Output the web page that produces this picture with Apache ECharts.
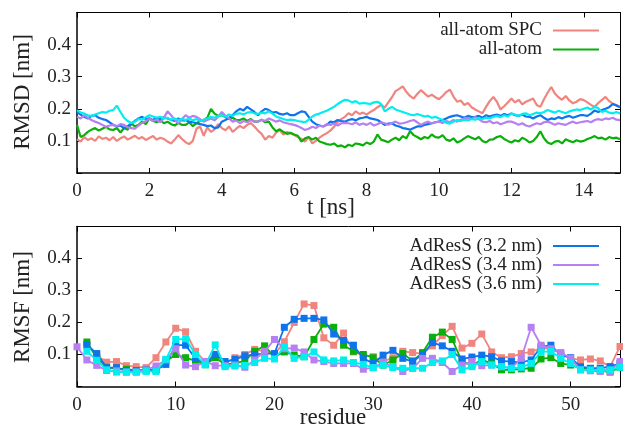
<!DOCTYPE html>
<html>
<head>
<meta charset="utf-8">
<script src="https://cdn.jsdelivr.net/npm/echarts@6/dist/echarts.min.js"></script>
<style>
  html, body { margin: 0; padding: 0; background: #fff; }
  #chart { width: 623px; height: 432px; }
</style>
</head>
<body>
<div id="chart"></div>
<script>
// series names (legend order)
const names = ['all-atom SPC', 'all-atom', 'AdResS (3.2 nm)', 'AdResS (3.4 nm)', 'AdResS (3.6 nm)'];
const colors = ['#f0857f', '#0ab00a', '#0d74ec', '#b67ff2', '#00eeee'];

// RMSD, one value every 0.1 ns from 0 to 15 ns
const tStep = 0.1;
const rmsdSPC = [
  0.105,0.098,0.112,0.103,0.108,0.100,0.114,0.106,0.110,0.102,
  0.112,0.100,0.108,0.114,0.104,0.110,0.116,0.107,0.112,0.103,
  0.109,0.115,0.104,0.110,0.106,0.098,0.092,0.104,0.118,0.106,
  0.096,0.090,0.100,0.138,0.145,0.116,0.142,0.128,0.136,0.152,
  0.140,0.133,0.145,0.128,0.138,0.147,0.140,0.150,0.156,0.145,
  0.132,0.122,0.104,0.115,0.110,0.126,0.134,0.120,0.128,0.124,
  0.118,0.112,0.106,0.098,0.112,0.092,0.100,0.110,0.118,0.124,
  0.132,0.144,0.158,0.168,0.175,0.186,0.180,0.192,0.184,0.188,
  0.182,0.190,0.196,0.205,0.212,0.204,0.220,0.236,0.255,0.262,
  0.270,0.252,0.240,0.232,0.246,0.258,0.248,0.238,0.244,0.236,
  0.230,0.240,0.252,0.260,0.238,0.222,0.226,0.212,0.218,0.205,
  0.198,0.192,0.186,0.206,0.224,0.237,0.222,0.198,0.208,0.220,
  0.232,0.220,0.228,0.214,0.222,0.227,0.232,0.212,0.206,0.230,
  0.250,0.268,0.248,0.236,0.228,0.240,0.226,0.217,0.222,0.230,
  0.227,0.220,0.212,0.206,0.218,0.228,0.237,0.224,0.216,0.212,
  0.206
];
const rmsdAA = [
  0.150,0.112,0.118,0.128,0.135,0.140,0.132,0.138,0.144,0.136,
  0.134,0.140,0.126,0.140,0.135,0.154,0.145,0.150,0.160,0.152,
  0.170,0.162,0.158,0.165,0.155,0.160,0.152,0.148,0.156,0.150,
  0.150,0.158,0.146,0.155,0.162,0.165,0.172,0.200,0.185,0.178,
  0.180,0.174,0.168,0.172,0.165,0.165,0.170,0.162,0.168,0.160,
  0.160,0.166,0.158,0.160,0.142,0.130,0.136,0.128,0.122,0.125,
  0.120,0.116,0.098,0.108,0.112,0.104,0.110,0.098,0.094,0.090,
  0.088,0.092,0.083,0.086,0.080,0.088,0.084,0.092,0.090,0.086,
  0.095,0.090,0.098,0.120,0.104,0.100,0.096,0.104,0.110,0.102,
  0.115,0.108,0.130,0.118,0.112,0.105,0.112,0.108,0.120,0.112,
  0.110,0.118,0.104,0.100,0.108,0.095,0.100,0.108,0.115,0.110,
  0.105,0.112,0.100,0.095,0.104,0.105,0.112,0.115,0.106,0.100,
  0.095,0.102,0.098,0.110,0.104,0.095,0.100,0.112,0.130,0.108,
  0.095,0.090,0.098,0.100,0.092,0.105,0.100,0.096,0.102,0.098,
  0.100,0.106,0.110,0.115,0.108,0.110,0.104,0.112,0.108,0.110,
  0.105
];
const rmsd32 = [
  0.190,0.182,0.175,0.170,0.178,0.180,0.172,0.168,0.165,0.158,
  0.150,0.145,0.148,0.140,0.146,0.154,0.162,0.170,0.175,0.168,
  0.170,0.165,0.172,0.168,0.174,0.170,0.166,0.162,0.170,0.164,
  0.165,0.160,0.158,0.155,0.152,0.150,0.146,0.148,0.140,0.142,
  0.160,0.165,0.172,0.180,0.192,0.200,0.195,0.206,0.198,0.190,
  0.180,0.192,0.200,0.196,0.188,0.190,0.184,0.182,0.186,0.180,
  0.180,0.186,0.192,0.190,0.175,0.160,0.152,0.148,0.145,0.150,
  0.160,0.158,0.165,0.162,0.160,0.165,0.168,0.164,0.170,0.172,
  0.175,0.170,0.168,0.165,0.158,0.150,0.154,0.155,0.148,0.145,
  0.140,0.138,0.135,0.140,0.145,0.145,0.150,0.152,0.155,0.158,
  0.160,0.165,0.170,0.175,0.178,0.180,0.176,0.172,0.178,0.174,
  0.175,0.178,0.172,0.180,0.176,0.180,0.182,0.178,0.184,0.180,
  0.185,0.180,0.178,0.182,0.176,0.175,0.170,0.176,0.180,0.172,
  0.165,0.170,0.168,0.174,0.170,0.175,0.178,0.172,0.176,0.180,
  0.180,0.178,0.185,0.195,0.190,0.196,0.200,0.205,0.215,0.210,
  0.205
];
const rmsd34 = [
  0.175,0.170,0.180,0.172,0.165,0.160,0.156,0.150,0.144,0.148,
  0.150,0.146,0.152,0.150,0.142,0.140,0.138,0.148,0.156,0.162,
  0.170,0.162,0.166,0.158,0.172,0.192,0.180,0.165,0.155,0.168,
  0.180,0.172,0.178,0.175,0.168,0.160,0.165,0.170,0.164,0.175,
  0.190,0.178,0.170,0.160,0.164,0.155,0.162,0.158,0.165,0.160,
  0.160,0.166,0.162,0.170,0.165,0.160,0.164,0.158,0.155,0.152,
  0.150,0.146,0.140,0.134,0.138,0.144,0.140,0.148,0.145,0.152,
  0.150,0.154,0.148,0.155,0.156,0.155,0.152,0.158,0.150,0.154,
  0.150,0.156,0.148,0.152,0.158,0.155,0.150,0.156,0.160,0.154,
  0.155,0.158,0.162,0.165,0.158,0.150,0.156,0.160,0.154,0.158,
  0.160,0.156,0.162,0.158,0.165,0.160,0.166,0.170,0.172,0.168,
  0.175,0.168,0.160,0.158,0.162,0.155,0.158,0.152,0.156,0.160,
  0.160,0.156,0.150,0.155,0.148,0.145,0.150,0.155,0.152,0.158,
  0.160,0.156,0.150,0.155,0.152,0.150,0.156,0.160,0.155,0.158,
  0.160,0.162,0.158,0.165,0.168,0.165,0.170,0.168,0.172,0.166,
  0.165
];
const rmsd36 = [
  0.196,0.188,0.185,0.180,0.178,0.182,0.186,0.190,0.188,0.194,
  0.196,0.210,0.190,0.172,0.162,0.156,0.160,0.168,0.166,0.174,
  0.180,0.176,0.172,0.175,0.170,0.172,0.166,0.170,0.165,0.168,
  0.165,0.170,0.164,0.168,0.162,0.166,0.170,0.175,0.172,0.178,
  0.180,0.176,0.182,0.178,0.185,0.186,0.182,0.188,0.190,0.186,
  0.184,0.188,0.186,0.192,0.185,0.176,0.172,0.168,0.165,0.166,
  0.165,0.162,0.160,0.158,0.166,0.176,0.182,0.185,0.190,0.194,
  0.200,0.206,0.215,0.222,0.228,0.226,0.220,0.224,0.216,0.218,
  0.217,0.215,0.220,0.222,0.215,0.192,0.200,0.206,0.198,0.194,
  0.190,0.186,0.182,0.180,0.184,0.180,0.176,0.178,0.172,0.175,
  0.170,0.165,0.156,0.154,0.160,0.165,0.162,0.166,0.164,0.168,
  0.166,0.170,0.168,0.172,0.170,0.175,0.178,0.174,0.180,0.176,
  0.185,0.182,0.178,0.184,0.186,0.180,0.184,0.188,0.186,0.190,
  0.196,0.192,0.188,0.194,0.190,0.186,0.192,0.195,0.198,0.196,
  0.200,0.204,0.198,0.206,0.202,0.190,0.194,0.188,0.186,0.190,
  0.185
];

// RMSF per residue 0..55 (null = no point)
const rmsfSPC = [null,0.130,0.098,0.076,0.078,0.065,0.062,0.059,0.090,0.139,
  0.182,0.171,0.110,0.078,0.100,0.072,0.090,0.100,0.116,0.110,
  0.100,0.140,0.200,0.258,0.253,0.152,0.129,0.167,0.108,0.098,
  0.093,0.078,0.090,0.110,0.106,0.103,0.127,0.159,0.188,0.120,
  0.135,0.164,0.108,0.090,0.093,0.103,0.108,0.120,0.118,0.103,
  0.088,0.083,0.086,0.080,0.062,0.125];
const rmsfAA = [null,0.139,0.090,0.060,0.056,0.054,0.050,0.052,0.052,0.078,
  0.100,0.090,0.080,0.068,0.090,0.069,0.072,0.080,0.110,0.127,
  0.093,0.108,0.098,0.093,0.147,0.195,0.185,0.129,0.110,0.100,
  0.090,0.067,0.083,0.103,0.080,0.106,0.154,0.170,0.147,0.078,
  0.067,0.083,0.072,0.052,0.052,0.055,0.057,0.086,0.090,0.072,
  0.067,0.057,0.055,0.050,0.045,0.060];
const rmsf32 = [null,0.130,0.103,0.059,0.059,0.050,0.048,0.052,0.052,0.069,
  0.129,0.129,0.088,0.070,0.100,0.078,0.085,0.096,0.100,0.103,
  0.103,0.185,0.210,0.213,0.213,0.208,0.164,0.144,0.129,0.088,
  0.072,0.098,0.113,0.088,0.078,0.100,0.137,0.127,0.110,0.086,
  0.092,0.098,0.093,0.080,0.078,0.075,0.083,0.124,0.129,0.098,
  0.090,0.062,0.057,0.057,0.062,0.072];
const rmsf34 = [0.124,0.083,0.066,0.050,0.049,0.045,0.045,0.052,0.064,0.083,
  0.118,0.067,0.062,0.078,0.065,0.065,0.067,0.060,0.083,0.110,
  0.147,0.118,0.120,0.108,0.083,0.078,0.072,0.072,0.072,0.054,
  0.059,0.075,0.062,0.047,0.057,0.088,0.088,0.075,0.047,0.067,
  0.078,0.065,0.067,0.062,0.057,0.088,0.185,0.129,0.118,0.106,
  0.088,0.052,0.049,0.047,0.047,0.078];
const rmsf36 = [null,0.110,0.082,0.052,0.045,0.045,0.045,0.047,0.047,0.085,
  0.147,0.149,0.100,0.068,0.130,0.062,0.064,0.066,0.075,0.088,
  0.086,0.124,0.088,0.093,0.108,0.083,0.080,0.083,0.075,0.069,
  0.059,0.067,0.059,0.057,0.057,0.057,0.075,0.080,0.100,0.052,
  0.062,0.078,0.067,0.062,0.057,0.060,0.072,0.108,0.110,0.088,
  0.072,0.052,0.052,0.052,0.052,0.060];

const rmsdAll = [rmsdSPC, rmsdAA, rmsd32, rmsd34, rmsd36];
const rmsfAll = [rmsfSPC, rmsfAA, rmsf32, rmsf34, rmsf36];

const FONT = 'Liberation Serif';
const ink = '#222';

function boxAxes(gridIndex, min, max, interval, isX, labelFmt) {
  const main = {
    gridIndex, type: 'value', min, max, interval,
    axisLine: { show: true, onZero: false, lineStyle: { color: '#000', width: 1.5 } },
    axisTick: { show: true, inside: true, length: 5, lineStyle: { color: '#000', width: 1 } },
    axisLabel: { color: ink, fontFamily: FONT, fontSize: 19, margin: isX ? 9 : 6, formatter: labelFmt },
    splitLine: { show: false }
  };
  const mirror = {
    gridIndex, type: 'value', min, max, interval,
    position: isX ? 'top' : 'right',
    axisLine: { show: true, onZero: false, lineStyle: { color: '#000', width: 1 } },
    axisTick: { show: true, inside: true, length: 5, lineStyle: { color: '#000', width: 1 } },
    axisLabel: { show: false },
    splitLine: { show: false }
  };
  return [main, mirror];
}

const yFmt = v => (v > 0.05 && v < 0.45) ? v.toFixed(1) : '';

const chart = echarts.init(document.getElementById('chart'), null, { renderer: 'canvas' });

const series = [];
rmsdAll.forEach((arr, k) => {
  series.push({
    name: names[k], type: 'line', xAxisIndex: 0, yAxisIndex: 0,
    data: arr.map((v, i) => [+(i * tStep).toFixed(1), v]),
    showSymbol: false, symbol: 'none',
    lineStyle: { color: colors[k], width: 2.2 },
    itemStyle: { color: colors[k] },
    z: 2 + k
  });
});
rmsfAll.forEach((arr, k) => {
  const pts = [];
  arr.forEach((v, i) => { if (v !== null) pts.push([i, v]); });
  series.push({
    name: names[k], type: 'line', xAxisIndex: 2, yAxisIndex: 2,
    data: pts,
    symbol: 'rect', symbolSize: 7,
    lineStyle: { color: colors[k], width: 1.8 },
    itemStyle: { color: colors[k] },
    z: 2 + k
  });
});

const legendText = { color: ink, fontFamily: FONT, fontSize: 19, padding: [0, 6, 0, 0] };

chart.setOption({
  animation: false,
  backgroundColor: '#fff',
  grid: [
    { left: 77, top: 12.5, width: 547, height: 160.5 },
    { left: 77, top: 226.5, width: 550, height: 160 }
  ],
  xAxis: [
    ...boxAxes(0, 0, 15, 2, true, v => (v <= 14 ? String(v) : '')),
    ...boxAxes(1, 0, 55, 10, true, v => (v <= 50 ? String(v) : ''))
  ],
  yAxis: [
    ...boxAxes(0, 0, 0.5, 0.1, false, yFmt),
    ...boxAxes(1, 0, 0.5, 0.1, false, yFmt)
  ],
  legend: [
    {
      data: names.slice(0, 2), orient: 'vertical', align: 'right',
      right: 19, top: 16, itemGap: 0, itemWidth: 46, itemHeight: 2, icon: 'rect',
      textStyle: Object.assign({ lineHeight: 18 }, legendText), selectedMode: false
    },
    {
      data: names.slice(2), orient: 'vertical', align: 'right',
      right: 19, top: 231.5, itemGap: 0, itemWidth: 46, itemHeight: 2, icon: 'rect',
      textStyle: Object.assign({ lineHeight: 16.5 }, legendText), selectedMode: false
    }
  ],
  graphic: [
    { type: 'text', x: 23, y: 92, rotation: Math.PI / 2,
      style: { text: 'RMSD [nm]', fill: ink, font: '23px "Liberation Serif"', align: 'center', verticalAlign: 'middle' } },
    { type: 'text', x: 331, y: 208,
      style: { text: 't [ns]', fill: ink, font: '23px "Liberation Serif"', align: 'center', verticalAlign: 'middle' } },
    { type: 'text', x: 23, y: 307, rotation: Math.PI / 2,
      style: { text: 'RMSF [nm]', fill: ink, font: '23px "Liberation Serif"', align: 'center', verticalAlign: 'middle' } },
    { type: 'text', x: 333, y: 418,
      style: { text: 'residue', fill: ink, font: '23px "Liberation Serif"', align: 'center', verticalAlign: 'middle' } }
  ],
  series
});
</script>
</body>
</html>
